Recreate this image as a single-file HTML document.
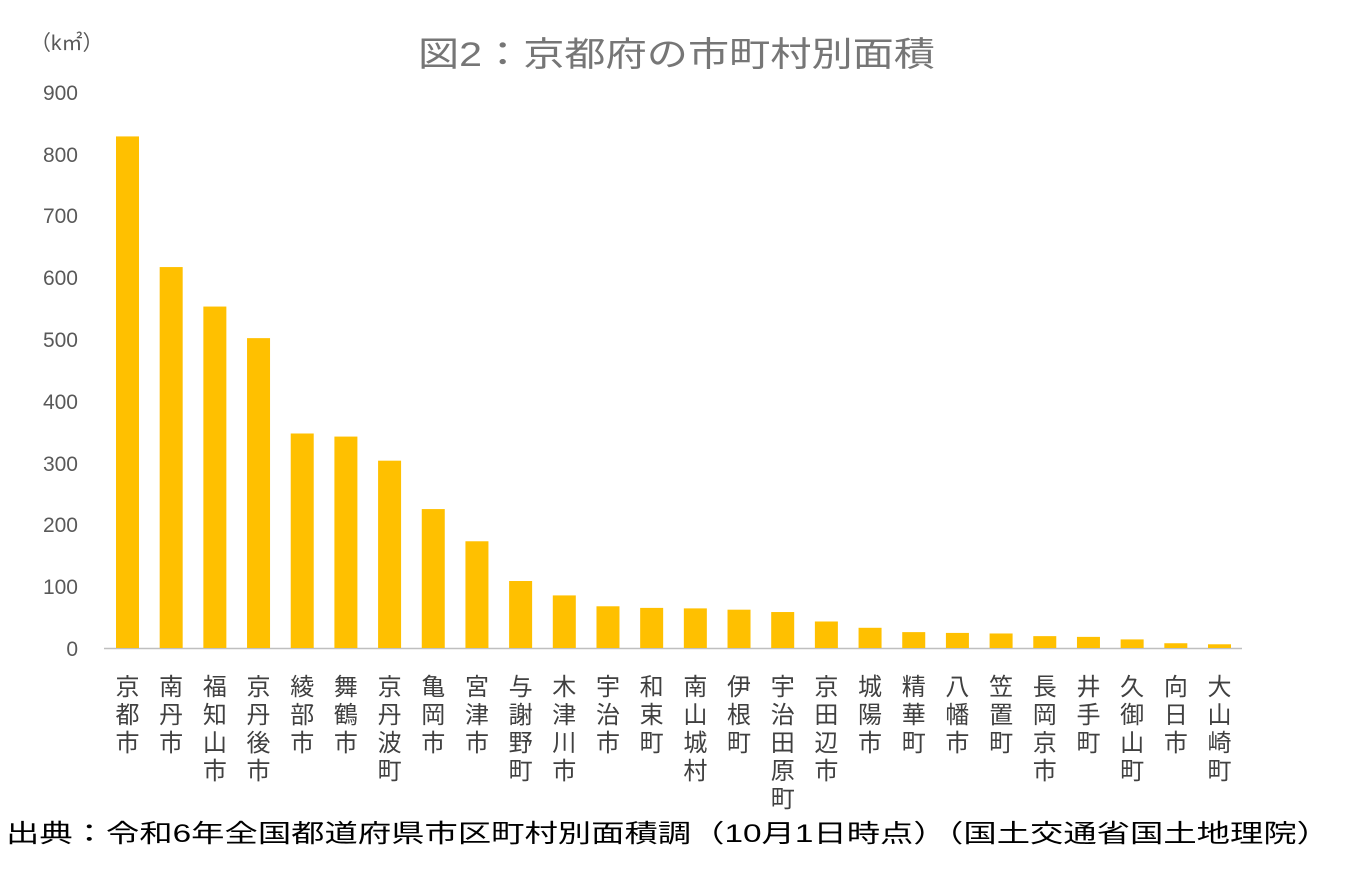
<!DOCTYPE html>
<html><head><meta charset="utf-8"><style>
body{margin:0;background:#fff;width:1350px;height:881px;overflow:hidden;font-family:"Liberation Sans","Noto Sans CJK JP",sans-serif}
</style></head><body>
<svg width="1350" height="881" xmlns="http://www.w3.org/2000/svg" font-family="Liberation Sans, Noto Sans CJK JP, sans-serif">
<text x="418" y="66" font-size="34" fill="#767676" textLength="517" lengthAdjust="spacingAndGlyphs">図2：京都府の市町村別面積</text>
<text x="30" y="50" font-size="21" fill="#595959">（k㎡）</text>
<g font-size="21" fill="#595959" text-anchor="end">
<text x="78" y="656">0</text><text x="78" y="594">100</text><text x="78" y="532">200</text><text x="78" y="471">300</text><text x="78" y="409">400</text><text x="78" y="347">500</text><text x="78" y="285">600</text><text x="78" y="223">700</text><text x="78" y="162">800</text><text x="78" y="100">900</text>
</g>
<line x1="104" y1="648.5" x2="1242" y2="648.5" stroke="#bfbfbf" stroke-width="1.5"/>
<g id="bars" fill="#FFC000"></g>
<g id="labels" font-size="24" fill="#404040" text-anchor="middle"></g>
<text x="6" y="842" font-size="25" fill="#000" textLength="1324" lengthAdjust="spacingAndGlyphs">出典：令和6年全国都道府県市区町村別面積調（10月1日時点）（国土交通省国土地理院）</text>
</svg>
<script>
var d=[["京都市",827.8],["南丹市",616.4],["福知山市",552.5],["京丹後市",501.4],["綾部市",347.1],["舞鶴市",342.1],["京丹波町",303.1],["亀岡市",224.8],["宮津市",172.7],["与謝野町",108.4],["木津川市",85.1],["宇治市",67.5],["和束町",64.9],["南山城村",64.1],["伊根町",62.0],["宇治田原町",58.2],["京田辺市",42.9],["城陽市",32.7],["精華町",25.7],["八幡市",24.4],["笠置町",23.5],["長岡京市",19.2],["井手町",18.0],["久御山町",13.9],["向日市",7.7],["大山崎町",6.0]];
var b=document.getElementById('bars'),l=document.getElementById('labels'),ns="http://www.w3.org/2000/svg";
d.forEach(function(v,i){var cx=127.5+i*43.68,h=v[1]*0.618;
var r=document.createElementNS(ns,'rect');r.setAttribute('x',cx-11.5);r.setAttribute('y',648-h);r.setAttribute('width',23);r.setAttribute('height',h);b.appendChild(r);
for(var j=0;j<v[0].length;j++){var t=document.createElementNS(ns,'text');t.setAttribute('x',cx);t.setAttribute('y',695+j*28);t.textContent=v[0][j];l.appendChild(t);}});
</script>
</body></html>
